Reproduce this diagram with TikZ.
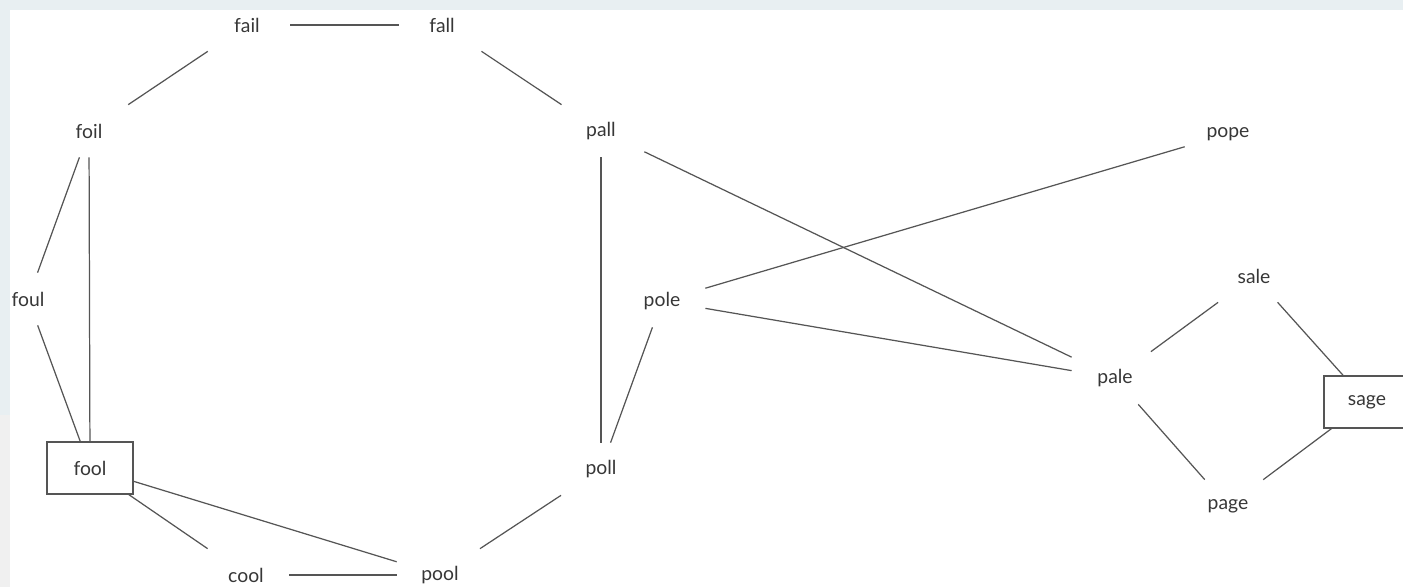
\documentclass[tikz,border=0pt]{standalone}
\usepackage{fontspec}
\setmainfont{Lato}
\usepackage{tikz}
\definecolor{edgegray}{RGB}{85,85,85}
\definecolor{textgray}{RGB}{55,55,55}
\definecolor{framebl}{RGB}{232,239,242}
\definecolor{framegr}{RGB}{240,240,240}

\begin{document}
\begin{tikzpicture} [scale=0.5,
		word/.style={minimum width=1.72cm, minimum height=1.04cm, inner sep=0pt, text=textgray, font=\fontsize{11}{13}\selectfont},
		boxed/.style={word, draw=edgegray, line width=0.7pt},
		link/.style={edgegray, line width=0.7pt}]
				\useasboundingbox (0,0) rectangle (56.12,23.48);
				\fill[white] (0,0) rectangle (56.12,23.48);
				\fill[framebl] (0,23.08) rectangle (56.12,23.48);
				\fill[framebl] (0,6.88) rectangle (0.4,23.48);
				\fill[framegr] (0,0) rectangle (0.4,6.88);
				
				\node[word] (fail) at (9.88, 22.48) {fail};
				\node[word] (fall) at (17.68, 22.48) {fall};
				\node[word] (foil) at (3.56, 18.24) {foil};
				\node[word] (pall) at (24.04, 18.24) {pall};
				\node[word] (pope) at (49.12, 18.12) {pope};
				\node[word] (foul) at (1.12, 11.52) {foul};
				\node[word] (pole) at (26.48, 11.44) {pole};
				\node[word] (sale) at (50.16, 12.44) {sale};
				\node[word] (pale) at (44.6, 8.36) {pale};
				\node[boxed] (sage) at (54.68, 7.4) {sage};
				\node[boxed] (fool) at (3.6, 4.76) {fool};
				\node[word] (poll) at (24.04, 4.72) {poll};
				\node[word] (page) at (49.12, 3.24) {page};
				\node[word] (cool) at (9.84, 0.48) {cool};
				\node[word] (pool) at (17.6, 0.48) {pool};
				
				\draw[link] (fail) -- (fall);
				\draw[link] (fail) -- (foil);
				\draw[link] (fall) -- (pall);
				\draw[link] (foil) -- (foul);
				\draw[link] (foil) -- (fool);
				\draw[link] (foul) -- (fool);
				\draw[link] (fool) -- (cool);
				\draw[link] (fool) -- (pool);
				\draw[link] (cool) -- (pool);
				\draw[link] (pool) -- (poll);
				\draw[link] (pall) -- (poll);
				\draw[link] (pole) -- (poll);
				\draw[link] (pall) -- (pale);
				\draw[link] (pole) -- (pope);
				\draw[link] (pole) -- (pale);
				\draw[link] (pale) -- (sale);
				\draw[link] (sale) -- (sage);
				\draw[link] (pale) -- (page);
				\draw[link] (page) -- (sage);
			\end{tikzpicture}
\end{document}
